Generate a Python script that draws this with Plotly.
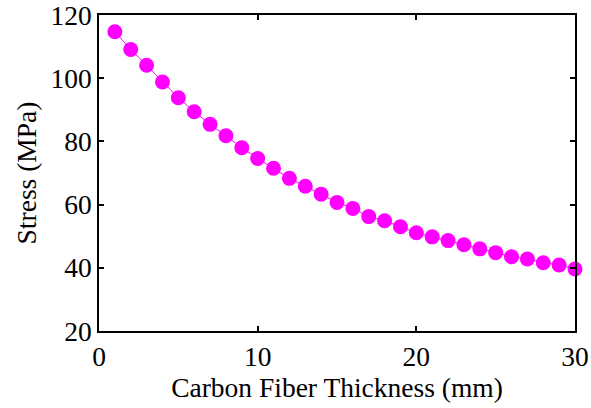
import plotly.graph_objects as go

thickness = list(range(1, 31))
stress = [114.7, 109.1, 104.1, 98.8, 93.8, 89.4, 85.4, 81.8, 78.0, 74.6,
          71.5, 68.3, 65.8, 63.3, 60.7, 58.8, 56.2, 54.9, 53.0, 51.1,
          49.8, 48.6, 47.3, 46.0, 44.8, 43.5, 42.8, 41.6, 40.9, 39.6]
x_ticks = [0, 10, 20, 30]
y_ticks = [20, 40, 60, 80, 100, 120]

fig = go.Figure(go.Scatter(
    x=thickness, y=stress, mode="lines+markers",
    line=dict(color="#ff00ff", width=1),
    marker=dict(color="#ff00ff", size=15, line=dict(width=0)),
    cliponaxis=False,
))

font = dict(family="Liberation Serif, Times New Roman, serif", size=27.5, color="black")
axis_common = dict(
    showline=True, linecolor="black", linewidth=1.5, mirror="ticks",
    ticks="inside", ticklen=5, tickwidth=1.5, tickcolor="black",
    showgrid=False, zeroline=False, tickfont=font, automargin=False,
    ticklabeloverflow="allow",
)
fig.update_layout(
    width=591, height=408,
    margin=dict(l=99, r=16, t=15, b=77),
    paper_bgcolor="white", plot_bgcolor="white",
    showlegend=False,
    font=font,
    xaxis=dict(range=[0, 30], tickvals=x_ticks,
               title=dict(text="Carbon Fiber Thickness (mm)", font=font, standoff=6),
               **axis_common),
    yaxis=dict(range=[20, 120], tickvals=y_ticks,
               title=dict(text="Stress (MPa)", font=font, standoff=6),
               **axis_common),
)
fig.write_html("out.html", config={"displayModeBar": False},
               post_script="document.body.style.margin='0';document.body.style.overflow='hidden';")
